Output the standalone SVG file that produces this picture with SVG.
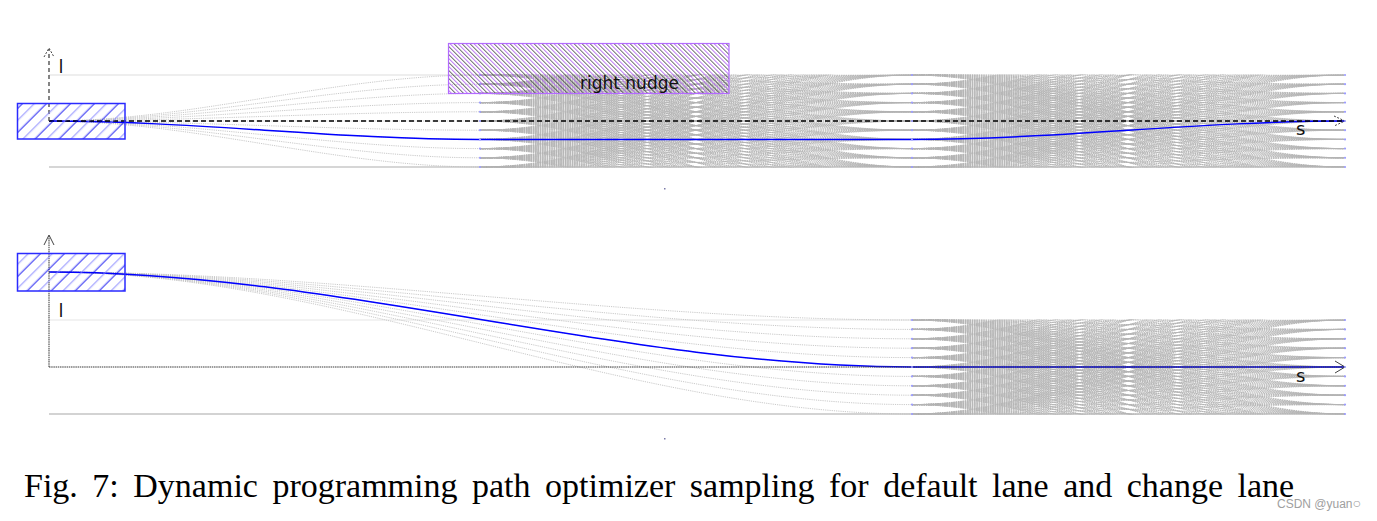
<svg xmlns="http://www.w3.org/2000/svg" width="1377" height="521" viewBox="0 0 1377 521">
<style>
.lat{fill:none;stroke:#b4b4b4;stroke-width:0.9;stroke-dasharray:1.5 0.8}
.fan{fill:none;stroke:#bdbdbd;stroke-width:0.8;stroke-dasharray:1.2 1}
.path{fill:none;stroke:#0000ff;stroke-width:1.5}
.lbl{font-family:"DejaVu Sans",sans-serif;font-size:18px;fill:#111}
.chev{fill:none;stroke:#444;stroke-width:1}
</style>
<defs>
<pattern id="hB" patternUnits="userSpaceOnUse" width="16.97" height="16.97" patternTransform="rotate(-45)">
<line x1="-1" y1="4.24" x2="18" y2="4.24" stroke="#0000ee" stroke-width="0.9"/>
<line x1="-1" y1="12.73" x2="18" y2="12.73" stroke="#8080ff" stroke-width="0.9"/>
</pattern>
<pattern id="hP" patternUnits="userSpaceOnUse" width="5.66" height="5.66" patternTransform="rotate(45)">
<line x1="-1" y1="1.41" x2="7" y2="1.41" stroke="#a040f0" stroke-width="0.7"/>
<line x1="-1" y1="4.24" x2="7" y2="4.24" stroke="#333" stroke-width="0.7"/>
</pattern>
<path id="fanT" class="lat" d="M0 0C144 0 288 -92 432 -92M0 0C144 0 288 -82.8 432 -82.8M0 0C144 0 288 -73.6 432 -73.6M0 0C144 0 288 -64.4 432 -64.4M0 0C144 0 288 -55.2 432 -55.2M0 0C144 0 288 -46 432 -46M0 0C144 0 288 -36.8 432 -36.8M0 0C144 0 288 -27.6 432 -27.6M0 0C144 0 288 -18.4 432 -18.4M0 0C144 0 288 -9.2 432 -9.2M0 0H432M0 0C144 0 288 9.2 432 9.2M0 0C144 0 288 18.4 432 18.4M0 0C144 0 288 27.6 432 27.6M0 0C144 0 288 36.8 432 36.8M0 0C144 0 288 46 432 46M0 0C144 0 288 55.2 432 55.2M0 0C144 0 288 64.4 432 64.4M0 0C144 0 288 73.6 432 73.6M0 0C144 0 288 82.8 432 82.8M0 0C144 0 288 92 432 92"/>
<path id="fanB" class="lat" d="M0 0C144.3 0 288.7 -94 433 -94M0 0C144.3 0 288.7 -84.6 433 -84.6M0 0C144.3 0 288.7 -75.2 433 -75.2M0 0C144.3 0 288.7 -65.8 433 -65.8M0 0C144.3 0 288.7 -56.4 433 -56.4M0 0C144.3 0 288.7 -47 433 -47M0 0C144.3 0 288.7 -37.6 433 -37.6M0 0C144.3 0 288.7 -28.2 433 -28.2M0 0C144.3 0 288.7 -18.8 433 -18.8M0 0C144.3 0 288.7 -9.4 433 -9.4M0 0H433M0 0C144.3 0 288.7 9.4 433 9.4M0 0C144.3 0 288.7 18.8 433 18.8M0 0C144.3 0 288.7 28.2 433 28.2M0 0C144.3 0 288.7 37.6 433 37.6M0 0C144.3 0 288.7 47 433 47M0 0C144.3 0 288.7 56.4 433 56.4M0 0C144.3 0 288.7 65.8 433 65.8M0 0C144.3 0 288.7 75.2 433 75.2M0 0C144.3 0 288.7 84.6 433 84.6M0 0C144.3 0 288.7 94 433 94"/>
<g id="dT" fill="#9c9cff">
<circle cx="0" cy="0" r="1.1"/><circle cx="0" cy="9.2" r="1.1"/><circle cx="0" cy="18.4" r="1.1"/><circle cx="0" cy="27.6" r="1.1"/><circle cx="0" cy="36.8" r="1.1"/><circle cx="0" cy="46" r="1.1"/><circle cx="0" cy="55.2" r="1.1"/><circle cx="0" cy="64.4" r="1.1"/><circle cx="0" cy="73.6" r="1.1"/><circle cx="0" cy="82.8" r="1.1"/><circle cx="0" cy="92" r="1.1"/>
</g>
<g id="dB" fill="#9c9cff">
<circle cx="0" cy="0" r="1.1"/><circle cx="0" cy="9.4" r="1.1"/><circle cx="0" cy="18.8" r="1.1"/><circle cx="0" cy="28.2" r="1.1"/><circle cx="0" cy="37.6" r="1.1"/><circle cx="0" cy="47" r="1.1"/><circle cx="0" cy="56.4" r="1.1"/><circle cx="0" cy="65.8" r="1.1"/><circle cx="0" cy="75.2" r="1.1"/><circle cx="0" cy="84.6" r="1.1"/><circle cx="0" cy="94" r="1.1"/>
</g>
<clipPath id="cT"><rect x="470" y="74.6" width="890" height="92.8"/></clipPath>
<clipPath id="cB"><rect x="900" y="319.6" width="460" height="94.8"/></clipPath>
</defs>
<rect width="1377" height="521" fill="#fff"/>

<g id="lanes" fill="none">
<path d="M49 75H480" stroke="#dddddd" stroke-width="1.2"/>
<path d="M49 167H1345" stroke="#c8c8c8" stroke-width="1.4"/>
<path d="M49 320H912" stroke="#e6e6e6" stroke-width="1.2"/>
<path d="M49 414H1345" stroke="#c4c4c4" stroke-width="1.4"/>
</g>

<g id="connectors">
<g id="lattice-top" clip-path="url(#cT)">
<use href="#fanT" x="480" y="75"/><use href="#fanT" x="480" y="84.2"/><use href="#fanT" x="480" y="93.4"/><use href="#fanT" x="480" y="102.6"/><use href="#fanT" x="480" y="111.8"/><use href="#fanT" x="480" y="121"/><use href="#fanT" x="480" y="130.2"/><use href="#fanT" x="480" y="139.4"/><use href="#fanT" x="480" y="148.6"/><use href="#fanT" x="480" y="157.8"/><use href="#fanT" x="480" y="167"/>
<use href="#fanT" x="912" y="75"/><use href="#fanT" x="912" y="84.2"/><use href="#fanT" x="912" y="93.4"/><use href="#fanT" x="912" y="102.6"/><use href="#fanT" x="912" y="111.8"/><use href="#fanT" x="912" y="121"/><use href="#fanT" x="912" y="130.2"/><use href="#fanT" x="912" y="139.4"/><use href="#fanT" x="912" y="148.6"/><use href="#fanT" x="912" y="157.8"/><use href="#fanT" x="912" y="167"/>
</g>
<path class="fan" d="M49 121C192.7 121 336.3 75 480 75M49 121C192.7 121 336.3 84.2 480 84.2M49 121C192.7 121 336.3 93.4 480 93.4M49 121C192.7 121 336.3 102.6 480 102.6M49 121C192.7 121 336.3 111.8 480 111.8M49 121H480M49 121C192.7 121 336.3 130.2 480 130.2M49 121C192.7 121 336.3 139.4 480 139.4M49 121C192.7 121 336.3 148.6 480 148.6M49 121C192.7 121 336.3 157.8 480 157.8M49 121C192.7 121 336.3 167 480 167"/>
<g id="lattice-bottom" clip-path="url(#cB)">
<use href="#fanB" x="912" y="320"/><use href="#fanB" x="912" y="329.4"/><use href="#fanB" x="912" y="338.8"/><use href="#fanB" x="912" y="348.2"/><use href="#fanB" x="912" y="357.6"/><use href="#fanB" x="912" y="367"/><use href="#fanB" x="912" y="376.4"/><use href="#fanB" x="912" y="385.8"/><use href="#fanB" x="912" y="395.2"/><use href="#fanB" x="912" y="404.6"/><use href="#fanB" x="912" y="414"/>
</g>
<path class="fan" d="M49 272C336.7 272 624.3 320 912 320M49 272C336.7 272 624.3 329.4 912 329.4M49 272C336.7 272 624.3 338.8 912 338.8M49 272C336.7 272 624.3 348.2 912 348.2M49 272C336.7 272 624.3 357.6 912 357.6M49 272C336.7 272 624.3 367 912 367M49 272C336.7 272 624.3 376.4 912 376.4M49 272C336.7 272 624.3 385.8 912 385.8M49 272C336.7 272 624.3 395.2 912 395.2M49 272C336.7 272 624.3 404.6 912 404.6M49 272C336.7 272 624.3 414 912 414"/>
<path id="best-top" class="path" d="M49 121C192.7 121 336.3 139.4 480 139.4H912C1056.3 139.4 1200.7 121 1345 121"/>
<path id="best-bottom" class="path" d="M49 272C336.7 272 624.3 367 912 367H1345"/>
</g>

<g id="axes">
<path d="M49 121H1343" fill="none" stroke="#000" stroke-width="1.4" stroke-dasharray="5 3"/>
<path d="M1334 116L1345 121L1334 126" class="chev" stroke-dasharray="2 1.5"/>
<path d="M49 121V49" fill="none" stroke="#444" stroke-width="1.3" stroke-dasharray="4 3"/>
<path d="M44 57L49 48L54 57" class="chev" stroke-dasharray="2 1.5"/>
<path d="M49 367H1344" fill="none" stroke="#3a3a3a" stroke-width="1.2" stroke-dasharray="1.5 0.7"/>
<path d="M1335 361L1345 367L1335 373" class="chev"/>
<path d="M49 367V236" fill="none" stroke="#555" stroke-width="1.2" stroke-dasharray="1.5 0.7"/>
<path d="M44 245L49 235L54 245" class="chev"/>
<text class="lbl" x="58.5" y="73">l</text>
<text class="lbl" x="1296" y="135">s</text>
<text class="lbl" x="58.5" y="317">l</text>
<text class="lbl" x="1296" y="382">s</text>
</g>

<g id="samples">
<use href="#dT" x="480" y="75"/><use href="#dT" x="912" y="75"/><use href="#dT" x="1345" y="75"/>
<use href="#dB" x="912" y="320"/><use href="#dB" x="1345" y="320"/>
</g>

<g id="ego-top"><rect x="17.5" y="103.5" width="107.5" height="35.5" fill="url(#hB)" stroke="#2a2aff" stroke-width="1.5"/></g>
<g id="ego-bottom"><rect x="17.5" y="253.5" width="107.5" height="37.5" fill="url(#hB)" stroke="#2a2aff" stroke-width="1.5"/></g>
<g id="nudge">
<rect x="448.5" y="43.5" width="280.5" height="50" fill="url(#hP)" stroke="#b36bff" stroke-width="1.2"/>
<text x="580" y="89" font-family="'DejaVu Sans',sans-serif" font-size="17" fill="#111">right nudge</text>
</g>

<rect x="664" y="188" width="1.5" height="1.5" fill="#7a7aa8"/>
<rect x="664" y="438" width="1.5" height="1.5" fill="#7a7aa8"/>

<text x="24" y="497" font-family="'Liberation Serif','Times New Roman',serif" font-size="34" fill="#000" word-spacing="6">Fig. 7: Dynamic programming path optimizer sampling for default lane and change lane</text>
<text x="1277" y="508" font-family="'Liberation Sans',Arial,sans-serif" font-size="12" fill="#a0a0a0">CSDN @yuan<tspan font-size="14">○</tspan></text>
</svg>
